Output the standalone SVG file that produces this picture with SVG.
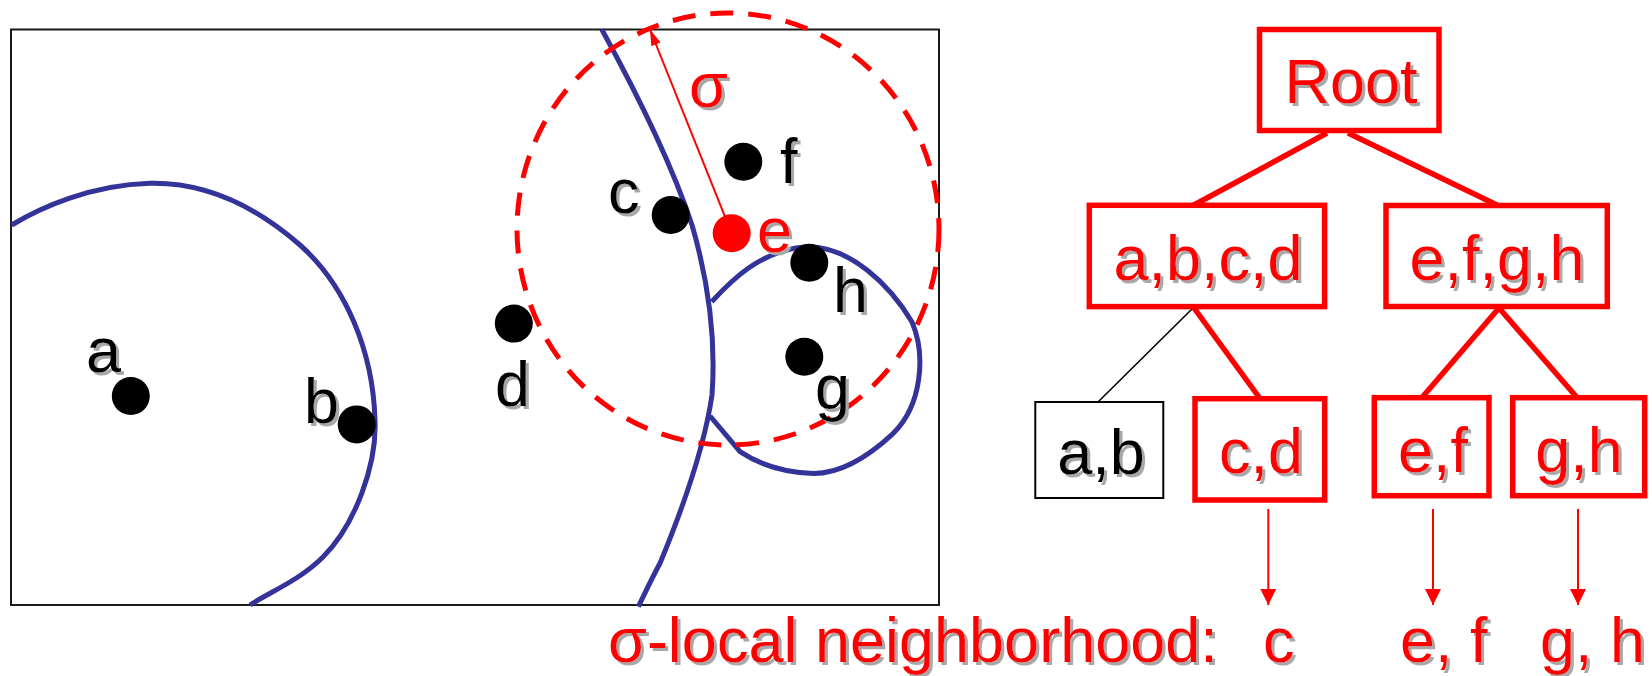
<svg xmlns="http://www.w3.org/2000/svg" width="1652" height="676" viewBox="0 0 1652 676">
<defs>
<filter id="sh" x="-10%" y="-10%" width="130%" height="140%">
<feDropShadow dx="3" dy="3" stdDeviation="0.6" flood-color="#a8a8a8" flood-opacity="1"/>
</filter>
<marker id="ah" viewBox="0 0 16 16" refX="16" refY="8" markerWidth="16" markerHeight="16" markerUnits="userSpaceOnUse" orient="auto">
<path d="M0,0 L16,8 L0,16 Z" fill="#ff0000"/>
</marker>
<marker id="ahs" viewBox="0 0 16 10" refX="16" refY="5" markerWidth="16" markerHeight="10" markerUnits="userSpaceOnUse" orient="auto">
<path d="M0,0 L16,5 L0,10 Z" fill="#ff0000"/>
</marker>
</defs>
<style>
text{font-family:"Liberation Sans",Arial,sans-serif;font-size:63px;filter:url(#sh)}
.k{fill:#000}
.r{fill:#ff0000}
.mid{text-anchor:middle}
.box{fill:none;stroke:#ff0000;stroke-width:5.5}
.bbox{fill:none;stroke:#000;stroke-width:2}
.edge{stroke:#ff0000;stroke-width:5.5;fill:none}
.bedge{stroke:#000;stroke-width:1.6;fill:none}
.arr{stroke:#ff0000;stroke-width:2;fill:none}
.blue{stroke:#333399;stroke-width:5;fill:none}
.dot{fill:#000}
</style>
<rect width="1652" height="676" fill="#fff"/>

<g id="space">
<rect x="11" y="29.5" width="928" height="575.5" fill="none" stroke="#1a1a1a" stroke-width="2"/>
<path class="blue" d="M11.7,225 C40,208 90,185 150,183.3 C210,182 260,210 300,245 C345,285 373,350 375,420 C377,465 355,525 323,557 C300,580 270,592 250,605"/>
<path class="blue" d="M601.7,29.3 C635,90 672,165 692,225 C708,280 716,340 712,395 C704,450 680,515 660,563.3 C652,578 645,593 638.3,606.7"/>
<path class="blue" d="M711.7,301.7 C730,282 760,250 806.7,246.7 C850,246 890,285 912,322 C926,355 922,405 893.3,433.3 C870,455 840,475 810,473.3 C785,472 760,465 740,451.7 L710,416"/>
<ellipse cx="728" cy="229" rx="211" ry="216" fill="none" stroke="#ff0000" stroke-width="5" stroke-dasharray="23 15"/>
<line class="arr" x1="731.7" y1="233.3" x2="650" y2="29.5" stroke-width="1.6" marker-end="url(#ahs)"/>
<text class="r" x="689" y="106.7">σ</text>
</g>

<g id="pt-a"><circle class="dot" cx="130.8" cy="396" r="19"/><text class="k" x="86" y="371.7">a</text></g>
<g id="pt-b"><circle class="dot" cx="356.7" cy="424.4" r="19"/><text class="k" x="304" y="423.3">b</text></g>
<g id="pt-c"><circle class="dot" cx="670.7" cy="215" r="19"/><text class="k" x="608" y="213">c</text></g>
<g id="pt-d"><circle class="dot" cx="513.8" cy="323.6" r="19"/><text class="k" x="495" y="405.6">d</text></g>
<g id="pt-e"><circle cx="731.7" cy="233.3" r="19" fill="#ff0000"/><text class="r" x="757" y="251.7">e</text></g>
<g id="pt-f"><circle class="dot" cx="743.3" cy="161.7" r="19"/><text class="k" x="780" y="182.7">f</text></g>
<g id="pt-g"><circle class="dot" cx="804.3" cy="356.7" r="19"/><text class="k" x="815" y="409">g</text></g>
<g id="pt-h"><circle class="dot" cx="809.3" cy="262.7" r="19"/><text class="k" x="833" y="311.7">h</text></g>

<g id="connectors">
<line class="edge" x1="1327" y1="133" x2="1193" y2="205.5"/>
<line class="edge" x1="1348" y1="133" x2="1498" y2="205.5"/>
<line class="bedge" x1="1193" y1="308" x2="1098" y2="402"/>
<line class="edge" x1="1194" y1="308" x2="1260" y2="398.5"/>
<line class="edge" x1="1499" y1="308" x2="1422" y2="397.5"/>
<line class="edge" x1="1499" y1="308" x2="1577" y2="397.5"/>
<line class="arr" x1="1268.3" y1="509" x2="1268.3" y2="605" marker-end="url(#ah)"/>
<line class="arr" x1="1433" y1="509" x2="1433" y2="605" marker-end="url(#ah)"/>
<line class="arr" x1="1578" y1="509" x2="1578" y2="605" marker-end="url(#ah)"/>
</g>

<g id="node-root"><rect class="box" x="1259.5" y="29.5" width="179.5" height="101"/><text class="r mid" x="1351" y="103.3">Root</text></g>
<g id="node-abcd"><rect class="box" x="1089.3" y="205.3" width="235.3" height="101.3"/><text class="r mid" x="1208" y="280">a,b,c,d</text></g>
<g id="node-efgh"><rect class="box" x="1386" y="205.5" width="221.3" height="101"/><text class="r mid" x="1497" y="280">e,f,g,h</text></g>
<g id="node-ab"><rect class="bbox" x="1035.3" y="402" width="128" height="96"/><text class="k mid" x="1101" y="474">a,b</text></g>
<g id="node-cd"><rect class="box" x="1195" y="398.7" width="129.7" height="101.3"/><text class="r mid" x="1261" y="473">c,d</text></g>
<g id="node-ef"><rect class="box" x="1374.3" y="397.7" width="114.7" height="98"/><text class="r mid" x="1433" y="472">e,f</text></g>
<g id="node-gh"><rect class="box" x="1512.7" y="397.7" width="132" height="98"/><text class="r mid" x="1579" y="472">g,h</text></g>

<g id="caption">
<text class="r" y="661.7"><tspan x="608">σ-local neighborhood:</tspan><tspan x="1263">c</tspan><tspan x="1400">e, f</tspan><tspan x="1540">g, h</tspan></text>
</g>
</svg>
